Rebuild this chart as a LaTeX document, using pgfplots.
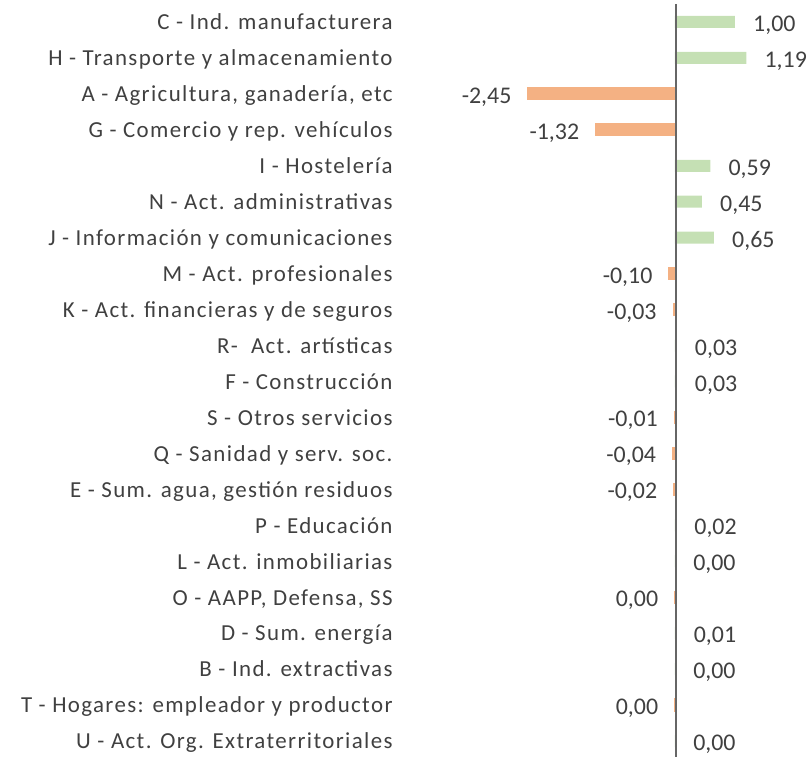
\documentclass[border=0pt]{standalone}
\usepackage{pgfplots}
\pgfplotsset{compat=1.18}
\usepackage{pgfplotstable}
\usepackage{fontspec}
\setmainfont{Carlito}
\newfontfamily\labfont[LetterSpace=6]{Carlito}
\definecolor{posc}{HTML}{C5E0B4}
\definecolor{negc}{HTML}{F4B183}
\definecolor{txt}{HTML}{404040}
\definecolor{axc}{HTML}{666666}

\pgfplotstableread{
row val lab
0 1.00 1,00
1 1.19 1,19
4 0.59 0,59
5 0.45 0,45
6 0.65 0,65
9 0.03 0,03
10 0.03 0,03
14 0.02 0,02
15 0.001 0,00
17 0.01 0,01
18 0.001 0,00
20 0.001 0,00
}\postab

\pgfplotstableread{
row val lab
2 -2.45 -2,45
3 -1.32 -1,32
7 -0.10 -0,10
8 -0.03 -0,03
11 -0.01 -0,01
12 -0.04 -0,04
13 -0.02 -0,02
16 -0.004 0,00
19 -0.004 0,00
}\negtab

\begin{document}
\begin{tikzpicture}
\begin{axis}[
  scale only axis,
  width=410bp, height=748bp,
  xmin=-4.6, xmax=2.2333,
  ymin=-0.5, ymax=20.306,
  y dir=reverse,
  clip=false,
  axis line style={draw=none},
  tick style={draw=none},
  xtick=\empty,
  ytick={0,...,20},
  yticklabels={
    C - Ind. manufacturera,
    H - Transporte y almacenamiento,
    {A - Agricultura, ganadería, etc},
    G - Comercio y rep. vehículos,
    I - Hostelería,
    N - Act. administrativas,
    J - Información y comunicaciones,
    M - Act. profesionales,
    K - Act. financieras y de seguros,
    R-\ \ Act. artísticas,
    F - Construcción,
    S - Otros servicios,
    Q - Sanidad y serv. soc.,
    {E - Sum. agua, gestión residuos},
    P - Educación,
    L - Act. inmobiliarias,
    {O - AAPP, Defensa, SS},
    D - Sum. energía\ ,
    B - Ind. extractivas,
    T - Hogares: empleador y productor,
    U - Act. Org. Extraterritoriales},
  yticklabel style={anchor=east, inner sep=0pt, xshift=-2bp, yshift=-0.5bp, text=txt,
    text height=14.7bp, text depth=0pt, font=\labfont\fontsize{23}{27}\selectfont},
  xbar, bar width=12bp, bar shift=0pt,
  point meta=explicit symbolic,
]
\addplot[fill=posc, draw=none,
  nodes near coords, nodes near coords style={anchor=west, inner sep=0pt, xshift=18bp, yshift=-2bp, text=txt,
    text height=15.1bp, text depth=0pt, font=\fontsize{24}{28}\selectfont}]
  table[x=val, y=row, meta=lab] {\postab};
\addplot[fill=negc, draw=negc, line width=1.2bp,
  nodes near coords, nodes near coords style={anchor=east, inner sep=0pt, xshift=-16bp, yshift=-2bp, text=txt,
    text height=15.1bp, text depth=0pt, font=\fontsize{24}{28}\selectfont}]
  table[x=val, y=row, meta=lab] {\negtab};
\draw[axc, line width=2.5bp] ([xshift=1.25bp]axis cs:0,-0.5) -- ([xshift=1.25bp]axis cs:0,20.45);
\coordinate (bbtl) at (axis cs:-11.25,-0.611);
\coordinate (bbbr) at (axis cs:2.2333,20.45);
\end{axis}
\pgfresetboundingbox
\path[use as bounding box] (bbtl) rectangle (bbbr);
\end{tikzpicture}
\end{document}
